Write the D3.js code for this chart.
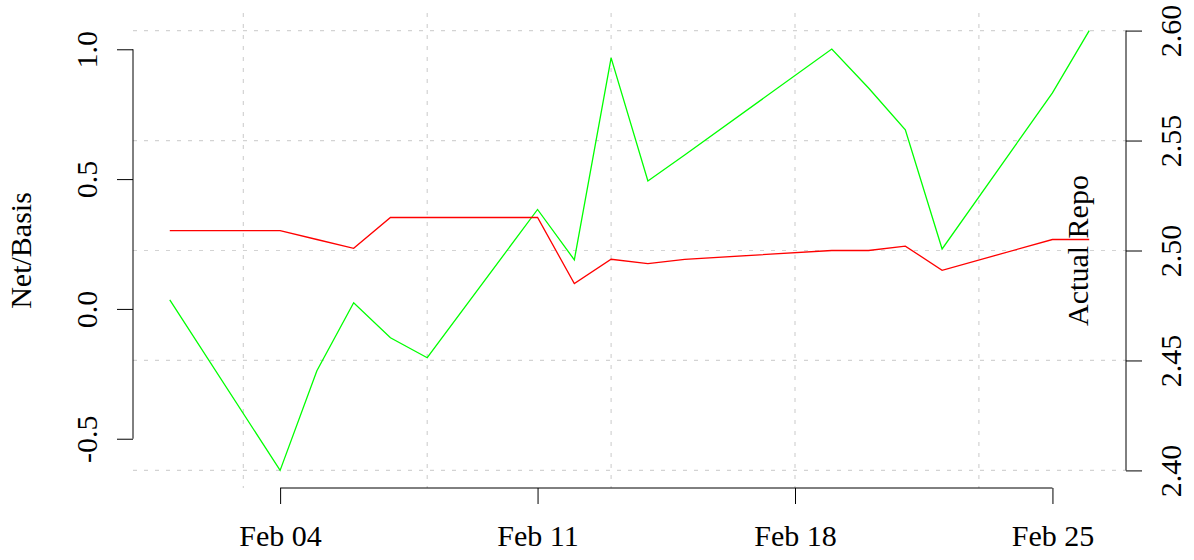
<!DOCTYPE html>
<html>
<head>
<meta charset="utf-8">
<script src="https://cdn.jsdelivr.net/npm/d3@7"></script>
<style>
  html, body { margin: 0; padding: 0; background: #fff; }
  svg { display: block; }
  text { font-family: "Liberation Serif", "DejaVu Serif", serif; fill: #000; }
</style>
</head>
<body>
<svg id="chart" width="1194" height="560"></svg>
<script>
// ---- data ----
const dates = ["2013-02-01","2013-02-04","2013-02-05","2013-02-06","2013-02-07","2013-02-08",
               "2013-02-11","2013-02-12","2013-02-13","2013-02-14","2013-02-15",
               "2013-02-19","2013-02-20","2013-02-21","2013-02-22","2013-02-25","2013-02-26"];
const netBasis = [0.035, -0.622, -0.238, 0.024, -0.111, -0.188,
                  0.383, 0.189, 0.967, 0.493, 0.593,
                  1.001, 0.851, 0.690, 0.231, 0.832, 1.072];
const actualRepo = [2.509, 2.509, 2.505, 2.501, 2.515, 2.515,
                    2.515, 2.485, 2.496, 2.494, 2.496,
                    2.500, 2.500, 2.502, 2.491, 2.505, 2.505];
const xTickDates = ["2013-02-04","2013-02-11","2013-02-18","2013-02-25"];
const xGridDates = ["2013-02-03","2013-02-08","2013-02-13","2013-02-18","2013-02-23"];
const leftTicks = [-0.5, 0.0, 0.5, 1.0];
const rightTicks = [2.40, 2.45, 2.50, 2.55, 2.60];
const rightLimits = [2.40, 2.60];
const leftLabel = "Net/Basis";
const rightLabel = "Actual Repo";

// ---- layout ----
const parse = d3.timeParse("%Y-%m-%d");
const dts = dates.map(parse);
const L = 133, R = 1126, T = 13, B = 488;
const svg = d3.select("#chart");

function expand(ext) { const r = ext[1] - ext[0]; return [ext[0] - 0.04 * r, ext[1] + 0.04 * r]; }

const xExt = d3.extent(dts);
const xDom = expand([+xExt[0], +xExt[1]]);
const x = d3.scaleTime().domain([new Date(xDom[0]), new Date(xDom[1])]).range([L, R]);
const yL = d3.scaleLinear().domain(expand(d3.extent(netBasis))).range([B, T]);
const yR = d3.scaleLinear().domain(expand(rightLimits)).range([B, T]);

// ---- grid ----
const grid = svg.append("g").attr("stroke", "#d3d3d3").attr("stroke-width", 1.2)
  .attr("stroke-dasharray", "4,7").attr("fill", "none");
grid.selectAll("line.v").data(xGridDates.map(parse)).join("line")
  .attr("x1", d => x(d)).attr("x2", d => x(d)).attr("y1", T).attr("y2", B);
grid.selectAll("line.h").data(rightTicks).join("line")
  .attr("x1", L).attr("x2", R).attr("y1", d => yR(d)).attr("y2", d => yR(d));

// ---- lines ----
const lineG = d3.line().x((d, i) => x(dts[i])).y(d => yL(d));
const lineR = d3.line().x((d, i) => x(dts[i])).y(d => yR(d));
svg.append("path").datum(netBasis).attr("d", lineG)
  .attr("fill", "none").attr("stroke", "#00ff00").attr("stroke-width", 1.3);
svg.append("path").datum(actualRepo).attr("d", lineR)
  .attr("fill", "none").attr("stroke", "#ff0000").attr("stroke-width", 1.3);

// ---- axes ----
const FS = 30;
// bottom
const xt = xTickDates.map(parse);
const ax = svg.append("g").attr("transform", `translate(0,${B})`)
  .call(d3.axisBottom(x).tickValues(xt).tickFormat(d3.timeFormat("%b %d")).tickSize(16).tickSizeOuter(0));
ax.select(".domain").remove();
ax.append("line").attr("x1", x(xt[0])).attr("x2", x(xt[xt.length - 1])).attr("stroke", "#000");
ax.selectAll(".tick line").attr("stroke", "#000");
ax.selectAll(".tick text").attr("y", 58).attr("dy", null)
  .attr("font-size", FS).attr("font-family", "Liberation Serif").attr("fill", "#000");

// left
const al = svg.append("g").attr("transform", `translate(${L},0)`)
  .call(d3.axisLeft(yL).tickValues(leftTicks).tickFormat(d => d.toFixed(1)).tickSize(16).tickSizeOuter(0));
al.select(".domain").remove();
al.append("line").attr("y1", yL(leftTicks[0])).attr("y2", yL(leftTicks[leftTicks.length - 1])).attr("stroke", "#000");
al.selectAll(".tick line").attr("stroke", "#000");
al.selectAll(".tick text").attr("x", null).attr("dy", null)
  .attr("transform", "translate(-36,0) rotate(-90)").attr("text-anchor", "middle")
  .attr("font-size", FS).attr("font-family", "Liberation Serif").attr("fill", "#000");

// right
const ar = svg.append("g").attr("transform", `translate(${R},0)`)
  .call(d3.axisRight(yR).tickValues(rightTicks).tickFormat(d => d.toFixed(2)).tickSize(16).tickSizeOuter(0));
ar.select(".domain").remove();
ar.append("line").attr("y1", yR(rightTicks[0])).attr("y2", yR(rightTicks[rightTicks.length - 1])).attr("stroke", "#000");
ar.selectAll(".tick line").attr("stroke", "#000");
ar.selectAll(".tick text").attr("x", null).attr("dy", null)
  .attr("transform", "translate(55,0) rotate(-90)").attr("text-anchor", "middle")
  .attr("font-size", FS).attr("font-family", "Liberation Serif").attr("fill", "#000");

// axis titles
const cy = (T + B) / 2;
svg.append("text").attr("transform", `translate(31,${cy}) rotate(-90)`)
  .attr("text-anchor", "middle").attr("font-size", FS).text(leftLabel);
svg.append("text").attr("transform", `translate(1088,${cy}) rotate(-90)`)
  .attr("text-anchor", "middle").attr("font-size", FS).text(rightLabel);
</script>
</body>
</html>
